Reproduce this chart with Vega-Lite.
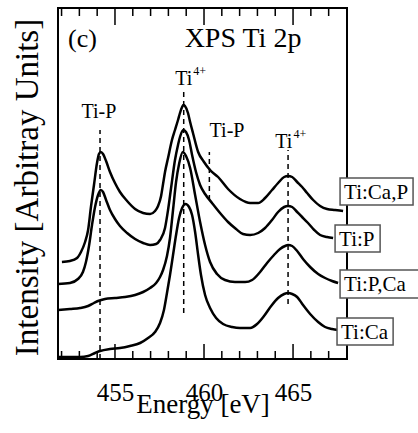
{
  "$schema": "https://vega.github.io/schema/vega-lite/v6.json",
  "autosize": "none",
  "width": 289,
  "height": 351,
  "padding": {"left": 58, "top": 8, "right": 71, "bottom": 74},
  "background": "white",
  "config": {
    "font": "Liberation Serif",
    "text": {"font": "Liberation Serif"},
    "view": {"stroke": "black", "strokeWidth": 2},
    "axis": {"grid": false, "domain": false, "labelFont": "Liberation Serif", "titleFont": "Liberation Serif"}
  },
  "datasets": {
    "spectra": [
      {"s": "Ti:Ca,P", "e": 452.02, "i": 97}, {"s": "Ti:Ca,P", "e": 452.47, "i": 98}, {"s": "Ti:Ca,P", "e": 452.87, "i": 101}, {"s": "Ti:Ca,P", "e": 453.09, "i": 107}, {"s": "Ti:Ca,P", "e": 453.32, "i": 117}, {"s": "Ti:Ca,P", "e": 453.49, "i": 129}, {"s": "Ti:Ca,P", "e": 453.65, "i": 152}, {"s": "Ti:Ca,P", "e": 453.82, "i": 174}, {"s": "Ti:Ca,P", "e": 453.99, "i": 196}, {"s": "Ti:Ca,P", "e": 454.10, "i": 205}, {"s": "Ti:Ca,P", "e": 454.20, "i": 207}, {"s": "Ti:Ca,P", "e": 454.33, "i": 205}, {"s": "Ti:Ca,P", "e": 454.50, "i": 198}, {"s": "Ti:Ca,P", "e": 454.72, "i": 187}, {"s": "Ti:Ca,P", "e": 455.00, "i": 176}, {"s": "Ti:Ca,P", "e": 455.28, "i": 167}, {"s": "Ti:Ca,P", "e": 455.68, "i": 158}, {"s": "Ti:Ca,P", "e": 456.13, "i": 150}, {"s": "Ti:Ca,P", "e": 456.58, "i": 146}, {"s": "Ti:Ca,P", "e": 456.97, "i": 145}, {"s": "Ti:Ca,P", "e": 457.25, "i": 148}, {"s": "Ti:Ca,P", "e": 457.42, "i": 153}, {"s": "Ti:Ca,P", "e": 457.59, "i": 163}, {"s": "Ti:Ca,P", "e": 457.70, "i": 175}, {"s": "Ti:Ca,P", "e": 457.81, "i": 187}, {"s": "Ti:Ca,P", "e": 457.98, "i": 201}, {"s": "Ti:Ca,P", "e": 458.20, "i": 219}, {"s": "Ti:Ca,P", "e": 458.37, "i": 229}, {"s": "Ti:Ca,P", "e": 458.54, "i": 239}, {"s": "Ti:Ca,P", "e": 458.65, "i": 246}, {"s": "Ti:Ca,P", "e": 458.77, "i": 252}, {"s": "Ti:Ca,P", "e": 458.84, "i": 254}, {"s": "Ti:Ca,P", "e": 458.93, "i": 253}, {"s": "Ti:Ca,P", "e": 459.10, "i": 246}, {"s": "Ti:Ca,P", "e": 459.22, "i": 237}, {"s": "Ti:Ca,P", "e": 459.38, "i": 226}, {"s": "Ti:Ca,P", "e": 459.67, "i": 207}, {"s": "Ti:Ca,P", "e": 460.00, "i": 197}, {"s": "Ti:Ca,P", "e": 460.34, "i": 189}, {"s": "Ti:Ca,P", "e": 460.79, "i": 182}, {"s": "Ti:Ca,P", "e": 461.35, "i": 170}, {"s": "Ti:Ca,P", "e": 462.02, "i": 160}, {"s": "Ti:Ca,P", "e": 462.59, "i": 156}, {"s": "Ti:Ca,P", "e": 463.04, "i": 156}, {"s": "Ti:Ca,P", "e": 463.43, "i": 161}, {"s": "Ti:Ca,P", "e": 463.82, "i": 169}, {"s": "Ti:Ca,P", "e": 464.16, "i": 176}, {"s": "Ti:Ca,P", "e": 464.50, "i": 182}, {"s": "Ti:Ca,P", "e": 464.72, "i": 183}, {"s": "Ti:Ca,P", "e": 464.95, "i": 182}, {"s": "Ti:Ca,P", "e": 465.23, "i": 177}, {"s": "Ti:Ca,P", "e": 465.51, "i": 172}, {"s": "Ti:Ca,P", "e": 465.79, "i": 166}, {"s": "Ti:Ca,P", "e": 466.13, "i": 159}, {"s": "Ti:Ca,P", "e": 466.52, "i": 153}, {"s": "Ti:Ca,P", "e": 466.91, "i": 150}, {"s": "Ti:Ca,P", "e": 467.36, "i": 149}, {"s": "Ti:Ca,P", "e": 467.81, "i": 148},
      {"s": "Ti:P", "e": 451.80, "i": 75}, {"s": "Ti:P", "e": 452.47, "i": 76}, {"s": "Ti:P", "e": 452.92, "i": 80}, {"s": "Ti:P", "e": 453.20, "i": 87}, {"s": "Ti:P", "e": 453.37, "i": 97}, {"s": "Ti:P", "e": 453.54, "i": 113}, {"s": "Ti:P", "e": 453.71, "i": 134}, {"s": "Ti:P", "e": 453.88, "i": 152}, {"s": "Ti:P", "e": 454.05, "i": 164}, {"s": "Ti:P", "e": 454.20, "i": 169}, {"s": "Ti:P", "e": 454.33, "i": 167}, {"s": "Ti:P", "e": 454.50, "i": 159}, {"s": "Ti:P", "e": 454.72, "i": 149}, {"s": "Ti:P", "e": 455.00, "i": 140}, {"s": "Ti:P", "e": 455.28, "i": 133}, {"s": "Ti:P", "e": 455.68, "i": 126}, {"s": "Ti:P", "e": 456.13, "i": 120}, {"s": "Ti:P", "e": 456.58, "i": 116}, {"s": "Ti:P", "e": 456.97, "i": 114}, {"s": "Ti:P", "e": 457.31, "i": 115}, {"s": "Ti:P", "e": 457.53, "i": 119}, {"s": "Ti:P", "e": 457.81, "i": 131}, {"s": "Ti:P", "e": 457.98, "i": 149}, {"s": "Ti:P", "e": 458.15, "i": 171}, {"s": "Ti:P", "e": 458.37, "i": 199}, {"s": "Ti:P", "e": 458.54, "i": 214}, {"s": "Ti:P", "e": 458.65, "i": 222}, {"s": "Ti:P", "e": 458.84, "i": 229}, {"s": "Ti:P", "e": 458.99, "i": 227}, {"s": "Ti:P", "e": 459.16, "i": 219}, {"s": "Ti:P", "e": 459.33, "i": 204}, {"s": "Ti:P", "e": 459.55, "i": 187}, {"s": "Ti:P", "e": 459.78, "i": 174}, {"s": "Ti:P", "e": 460.06, "i": 165}, {"s": "Ti:P", "e": 460.45, "i": 156}, {"s": "Ti:P", "e": 460.90, "i": 146}, {"s": "Ti:P", "e": 461.35, "i": 137}, {"s": "Ti:P", "e": 461.80, "i": 130}, {"s": "Ti:P", "e": 462.19, "i": 125}, {"s": "Ti:P", "e": 462.59, "i": 124}, {"s": "Ti:P", "e": 463.04, "i": 126}, {"s": "Ti:P", "e": 463.43, "i": 131}, {"s": "Ti:P", "e": 463.82, "i": 139}, {"s": "Ti:P", "e": 464.16, "i": 147}, {"s": "Ti:P", "e": 464.50, "i": 152}, {"s": "Ti:P", "e": 464.72, "i": 153}, {"s": "Ti:P", "e": 464.95, "i": 152}, {"s": "Ti:P", "e": 465.23, "i": 147}, {"s": "Ti:P", "e": 465.51, "i": 142}, {"s": "Ti:P", "e": 465.84, "i": 136}, {"s": "Ti:P", "e": 466.19, "i": 129}, {"s": "Ti:P", "e": 466.52, "i": 124}, {"s": "Ti:P", "e": 466.91, "i": 122}, {"s": "Ti:P", "e": 467.25, "i": 121},
      {"s": "Ti:P,Ca", "e": 451.80, "i": 49}, {"s": "Ti:P,Ca", "e": 452.47, "i": 50}, {"s": "Ti:P,Ca", "e": 453.04, "i": 51}, {"s": "Ti:P,Ca", "e": 453.49, "i": 53}, {"s": "Ti:P,Ca", "e": 453.82, "i": 56}, {"s": "Ti:P,Ca", "e": 454.05, "i": 58}, {"s": "Ti:P,Ca", "e": 454.44, "i": 60}, {"s": "Ti:P,Ca", "e": 455.00, "i": 61}, {"s": "Ti:P,Ca", "e": 455.56, "i": 62}, {"s": "Ti:P,Ca", "e": 456.13, "i": 64}, {"s": "Ti:P,Ca", "e": 456.58, "i": 67}, {"s": "Ti:P,Ca", "e": 456.97, "i": 71}, {"s": "Ti:P,Ca", "e": 457.31, "i": 76}, {"s": "Ti:P,Ca", "e": 457.53, "i": 82}, {"s": "Ti:P,Ca", "e": 457.70, "i": 89}, {"s": "Ti:P,Ca", "e": 457.92, "i": 103}, {"s": "Ti:P,Ca", "e": 458.09, "i": 121}, {"s": "Ti:P,Ca", "e": 458.26, "i": 149}, {"s": "Ti:P,Ca", "e": 458.43, "i": 177}, {"s": "Ti:P,Ca", "e": 458.60, "i": 195}, {"s": "Ti:P,Ca", "e": 458.81, "i": 207}, {"s": "Ti:P,Ca", "e": 458.99, "i": 203}, {"s": "Ti:P,Ca", "e": 459.22, "i": 191}, {"s": "Ti:P,Ca", "e": 459.50, "i": 164}, {"s": "Ti:P,Ca", "e": 459.78, "i": 137}, {"s": "Ti:P,Ca", "e": 460.06, "i": 114}, {"s": "Ti:P,Ca", "e": 460.34, "i": 97}, {"s": "Ti:P,Ca", "e": 460.73, "i": 85}, {"s": "Ti:P,Ca", "e": 461.18, "i": 79}, {"s": "Ti:P,Ca", "e": 461.74, "i": 77}, {"s": "Ti:P,Ca", "e": 462.31, "i": 77}, {"s": "Ti:P,Ca", "e": 462.70, "i": 79}, {"s": "Ti:P,Ca", "e": 463.15, "i": 87}, {"s": "Ti:P,Ca", "e": 463.54, "i": 96}, {"s": "Ti:P,Ca", "e": 463.93, "i": 104}, {"s": "Ti:P,Ca", "e": 464.27, "i": 110}, {"s": "Ti:P,Ca", "e": 464.55, "i": 113}, {"s": "Ti:P,Ca", "e": 464.72, "i": 114}, {"s": "Ti:P,Ca", "e": 464.95, "i": 113}, {"s": "Ti:P,Ca", "e": 465.23, "i": 108}, {"s": "Ti:P,Ca", "e": 465.56, "i": 100}, {"s": "Ti:P,Ca", "e": 465.96, "i": 92}, {"s": "Ti:P,Ca", "e": 466.41, "i": 85}, {"s": "Ti:P,Ca", "e": 466.80, "i": 81}, {"s": "Ti:P,Ca", "e": 467.19, "i": 78}, {"s": "Ti:P,Ca", "e": 467.53, "i": 76},
      {"s": "Ti:Ca", "e": 451.80, "i": 2}, {"s": "Ti:Ca", "e": 452.47, "i": 2}, {"s": "Ti:Ca", "e": 453.04, "i": 2}, {"s": "Ti:Ca", "e": 453.49, "i": 3}, {"s": "Ti:Ca", "e": 453.88, "i": 6}, {"s": "Ti:Ca", "e": 454.16, "i": 8}, {"s": "Ti:Ca", "e": 454.72, "i": 10}, {"s": "Ti:Ca", "e": 455.28, "i": 11}, {"s": "Ti:Ca", "e": 455.84, "i": 13}, {"s": "Ti:Ca", "e": 456.41, "i": 16}, {"s": "Ti:Ca", "e": 456.86, "i": 21}, {"s": "Ti:Ca", "e": 457.25, "i": 27}, {"s": "Ti:Ca", "e": 457.53, "i": 36}, {"s": "Ti:Ca", "e": 457.75, "i": 49}, {"s": "Ti:Ca", "e": 457.92, "i": 66}, {"s": "Ti:Ca", "e": 458.09, "i": 84}, {"s": "Ti:Ca", "e": 458.26, "i": 104}, {"s": "Ti:Ca", "e": 458.43, "i": 124}, {"s": "Ti:Ca", "e": 458.60, "i": 141}, {"s": "Ti:Ca", "e": 458.77, "i": 151}, {"s": "Ti:Ca", "e": 458.96, "i": 155}, {"s": "Ti:Ca", "e": 459.16, "i": 152}, {"s": "Ti:Ca", "e": 459.33, "i": 144}, {"s": "Ti:Ca", "e": 459.50, "i": 127}, {"s": "Ti:Ca", "e": 459.67, "i": 104}, {"s": "Ti:Ca", "e": 459.83, "i": 84}, {"s": "Ti:Ca", "e": 460.06, "i": 64}, {"s": "Ti:Ca", "e": 460.34, "i": 51}, {"s": "Ti:Ca", "e": 460.68, "i": 41}, {"s": "Ti:Ca", "e": 461.07, "i": 35}, {"s": "Ti:Ca", "e": 461.58, "i": 32}, {"s": "Ti:Ca", "e": 462.02, "i": 31}, {"s": "Ti:Ca", "e": 462.59, "i": 31}, {"s": "Ti:Ca", "e": 462.98, "i": 35}, {"s": "Ti:Ca", "e": 463.37, "i": 43}, {"s": "Ti:Ca", "e": 463.77, "i": 53}, {"s": "Ti:Ca", "e": 464.16, "i": 61}, {"s": "Ti:Ca", "e": 464.50, "i": 65}, {"s": "Ti:Ca", "e": 464.72, "i": 66}, {"s": "Ti:Ca", "e": 464.95, "i": 65}, {"s": "Ti:Ca", "e": 465.23, "i": 62}, {"s": "Ti:Ca", "e": 465.56, "i": 54}, {"s": "Ti:Ca", "e": 465.96, "i": 45}, {"s": "Ti:Ca", "e": 466.41, "i": 37}, {"s": "Ti:Ca", "e": 466.80, "i": 32}, {"s": "Ti:Ca", "e": 467.19, "i": 30}, {"s": "Ti:Ca", "e": 467.53, "i": 29}
    ],
    "markers": [
      {"e": 454.16, "lo": 0, "hi": 229, "k": "dash"},
      {"e": 458.86, "lo": 46, "hi": 267, "k": "dash"},
      {"e": 460.30, "lo": 159, "hi": 207, "k": "dash"},
      {"e": 464.72, "lo": 55, "hi": 209, "k": "dash"},
      {"e": 452, "lo": 0, "hi": 8, "k": "solid"}, {"e": 453, "lo": 0, "hi": 8, "k": "solid"}, {"e": 454, "lo": 0, "hi": 8, "k": "solid"}, {"e": 455, "lo": 0, "hi": 15, "k": "solid"},
      {"e": 456, "lo": 0, "hi": 8, "k": "solid"}, {"e": 457, "lo": 0, "hi": 8, "k": "solid"}, {"e": 458, "lo": 0, "hi": 8, "k": "solid"}, {"e": 459, "lo": 0, "hi": 8, "k": "solid"},
      {"e": 460, "lo": 0, "hi": 15, "k": "solid"}, {"e": 461, "lo": 0, "hi": 8, "k": "solid"}, {"e": 462, "lo": 0, "hi": 8, "k": "solid"}, {"e": 463, "lo": 0, "hi": 8, "k": "solid"},
      {"e": 464, "lo": 0, "hi": 8, "k": "solid"}, {"e": 465, "lo": 0, "hi": 15, "k": "solid"}, {"e": 466, "lo": 0, "hi": 8, "k": "solid"}, {"e": 467, "lo": 0, "hi": 8, "k": "solid"},
      {"e": 452, "lo": 343, "hi": 351, "k": "solid"}, {"e": 453, "lo": 343, "hi": 351, "k": "solid"}, {"e": 454, "lo": 343, "hi": 351, "k": "solid"}, {"e": 455, "lo": 334, "hi": 351, "k": "solid"},
      {"e": 456, "lo": 343, "hi": 351, "k": "solid"}, {"e": 457, "lo": 343, "hi": 351, "k": "solid"}, {"e": 458, "lo": 343, "hi": 351, "k": "solid"}, {"e": 459, "lo": 343, "hi": 351, "k": "solid"},
      {"e": 460, "lo": 334, "hi": 351, "k": "solid"}, {"e": 461, "lo": 343, "hi": 351, "k": "solid"}, {"e": 462, "lo": 343, "hi": 351, "k": "solid"}, {"e": 463, "lo": 343, "hi": 351, "k": "solid"},
      {"e": 464, "lo": 343, "hi": 351, "k": "solid"}, {"e": 465, "lo": 334, "hi": 351, "k": "solid"}, {"e": 466, "lo": 343, "hi": 351, "k": "solid"}, {"e": 467, "lo": 343, "hi": 351, "k": "solid"}
    ],
    "peaklabels": [
      {"t": "Ti-P", "e": 454.10, "i": 241},
      {"t": "Ti", "e": 458.87, "i": 274},
      {"t": "Ti-P", "e": 461.29, "i": 222},
      {"t": "Ti", "e": 464.48, "i": 211}
    ],
    "superscripts": [
      {"t": "4+", "e": 459.40, "i": 284},
      {"t": "4+", "e": 465.02, "i": 221}
    ],
    "boxes": [
      {"t": "Ti:Ca,P", "e0": 467.64, "e1": 471.74, "i0": 154, "i1": 181, "im": 167.5},
      {"t": "Ti:P", "e0": 467.36, "e1": 469.89, "i0": 107, "i1": 134, "im": 120.5},
      {"t": "Ti:P,Ca", "e0": 467.64, "e1": 472.10, "i0": 61, "i1": 89, "im": 75},
      {"t": "Ti:Ca", "e0": 467.47, "e1": 470.62, "i0": 14, "i1": 41, "im": 27.5}
    ],
    "titles": [
      {"t": "(c)", "e": 452.36, "i": 312}
    ],
    "titles2": [
      {"t": "XPS Ti 2p", "e": 462.19, "i": 312}
    ]
  },
  "layer": [
    {
      "data": {"name": "spectra"},
      "mark": {"type": "line", "color": "black", "strokeWidth": 2.5, "interpolate": "monotone"},
      "encoding": {
        "x": {
          "field": "e", "type": "quantitative",
          "scale": {"domain": [451.8, 468.03], "nice": false, "zero": false},
          "axis": {
            "orient": "bottom",
            "title": "Energy [eV]",
            "titleFont": "Liberation Serif",
            "titleFontSize": 27,
            "titleFontWeight": "normal",
            "titleColor": "black",
            "titlePadding": -14,
            "values": [455, 460, 465],
            "labelFont": "Liberation Serif",
            "labelFontSize": 25,
            "labelColor": "black",
            "labelPadding": 21,
            "labelFlush": false,
            "ticks": false
          }
        },
        "y": {
          "field": "i", "type": "quantitative",
          "scale": {"domain": [0, 351], "nice": false, "zero": false},
          "axis": {
            "title": "Intensity [Arbitray Units]",
            "titleFont": "Liberation Serif",
            "titleFontSize": 33,
            "titleFontWeight": "normal",
            "titleColor": "black",
            "titlePadding": 14,
            "titleY": 179,
            "labels": false,
            "ticks": false,
            "domain": false
          }
        },
        "detail": {"field": "s"},
        "order": {"field": "e", "type": "quantitative"}
      }
    },
    {
      "data": {"name": "markers"},
      "mark": {"type": "rule", "color": "black", "strokeWidth": 1.5},
      "encoding": {
        "x": {"field": "e", "type": "quantitative"},
        "y": {"field": "lo", "type": "quantitative"},
        "y2": {"field": "hi"},
        "strokeDash": {
          "field": "k", "type": "nominal",
          "scale": {"domain": ["dash", "solid"], "range": [[5, 4], [1, 0]]},
          "legend": null
        }
      }
    },
    {
      "data": {"name": "peaklabels"},
      "mark": {"type": "text", "font": "Liberation Serif", "fontSize": 20, "align": "center", "baseline": "alphabetic", "color": "black"},
      "encoding": {
        "x": {"field": "e", "type": "quantitative"},
        "y": {"field": "i", "type": "quantitative"},
        "text": {"field": "t"}
      }
    },
    {
      "data": {"name": "superscripts"},
      "mark": {"type": "text", "font": "Liberation Serif", "fontSize": 12, "align": "left", "baseline": "alphabetic", "color": "black"},
      "encoding": {
        "x": {"field": "e", "type": "quantitative"},
        "y": {"field": "i", "type": "quantitative"},
        "text": {"field": "t"}
      }
    },
    {
      "data": {"name": "boxes"},
      "mark": {"type": "rect", "fill": "white", "stroke": "#555555", "strokeWidth": 1.5},
      "encoding": {
        "x": {"field": "e0", "type": "quantitative"},
        "x2": {"field": "e1"},
        "y": {"field": "i0", "type": "quantitative"},
        "y2": {"field": "i1"}
      }
    },
    {
      "data": {"name": "boxes"},
      "mark": {"type": "text", "font": "Liberation Serif", "fontSize": 21, "align": "left", "baseline": "middle", "dx": 4, "dy": 1, "color": "black"},
      "encoding": {
        "x": {"field": "e0", "type": "quantitative"},
        "y": {"field": "im", "type": "quantitative"},
        "text": {"field": "t"}
      }
    },
    {
      "data": {"name": "titles"},
      "mark": {"type": "text", "font": "Liberation Serif", "fontSize": 26, "align": "left", "baseline": "alphabetic", "color": "black"},
      "encoding": {
        "x": {"field": "e", "type": "quantitative"},
        "y": {"field": "i", "type": "quantitative"},
        "text": {"field": "t"}
      }
    },
    {
      "data": {"name": "titles2"},
      "mark": {"type": "text", "font": "Liberation Serif", "fontSize": 28, "align": "center", "baseline": "alphabetic", "color": "black"},
      "encoding": {
        "x": {"field": "e", "type": "quantitative"},
        "y": {"field": "i", "type": "quantitative"},
        "text": {"field": "t"}
      }
    }
  ]
}
